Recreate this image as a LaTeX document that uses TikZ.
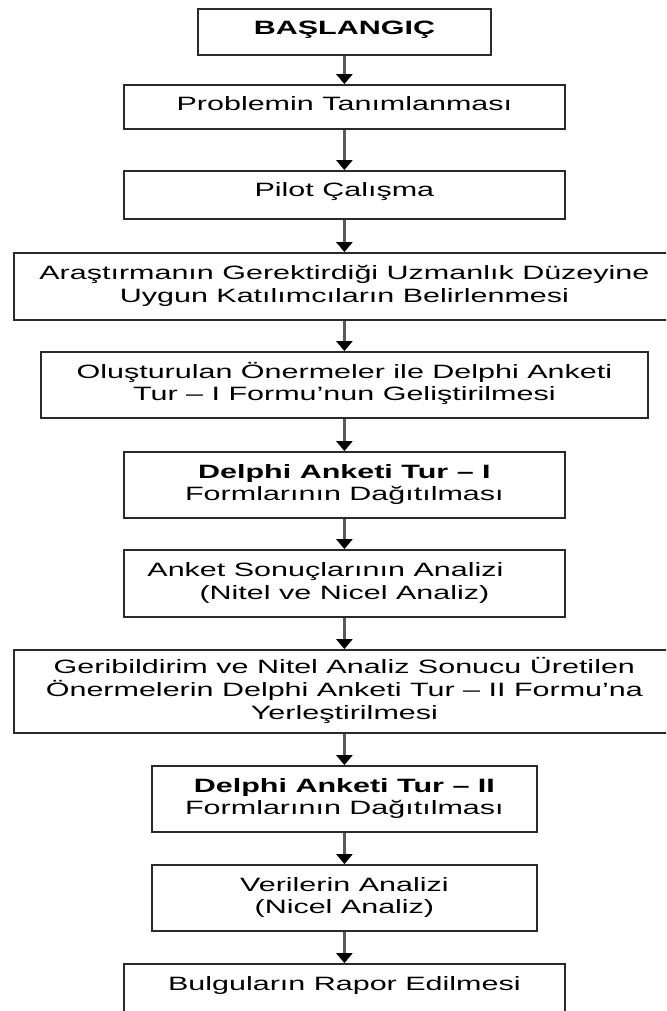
\documentclass[tikz,border=0pt]{standalone}
\usepackage{fontspec}
\setmainfont{Liberation Sans}[FakeStretch=1.58]
\usetikzlibrary{arrows.meta}
\definecolor{boxline}{HTML}{2A2A2A}
\definecolor{arrowline}{HTML}{5A5A5A}
\begin{document}
\begin{tikzpicture}[x=1pt,y=-1pt,
  box/.style={draw=boxline, line width=1.8pt, inner sep=0pt,
    font=\fontsize{19.3}{22.5}\selectfont},
  mbox/.style={box, align=center},
  flow/.style={draw=arrowline, line width=2.4pt,
    -{Triangle[length=10pt,width=16pt,color=black]}},
]
\useasboundingbox (0,0) rectangle (666,1011);
\fill[white] (0,0) rectangle (666,1011);
\clip (0,0) rectangle (666,1011);

\node[box, minimum width=293pt, text height=25.7pt, text depth=20pt]
  (start) at (344.4,32.15) {\textbf{BAŞLANGIÇ}};
\node[box, minimum width=441pt, text height=25.7pt, text depth=18.3pt]
  (prob) at (344.4,107) {Problemin Tanımlanması};
\node[box, minimum width=441pt, text height=25.7pt, text depth=22.3pt]
  (pilot) at (344.4,195) {Pilot Çalışma};
\node[mbox, minimum width=661pt, minimum height=67pt]
  (aras) at (344.4,286.5) {\strut Araştırmanın Gerektirdiği Uzmanlık Düzeyine\\\strut Uygun Katılımcıların Belirlenmesi};
\node[mbox, minimum width=606.5pt, minimum height=66pt]
  (olus) at (344.4,385) {\strut Oluşturulan Önermeler ile Delphi Anketi\\\strut Tur – I Formu’nun Geliştirilmesi};
\node[mbox, minimum width=441pt, minimum height=66pt]
  (d1) at (344.4,485) {\strut\textbf{Delphi Anketi Tur – I}\\\strut Formlarının Dağıtılması};
\node[mbox, minimum width=441pt, minimum height=67pt]
  (anket) at (344.4,583.5) {\strut Anket Sonuçlarının Analizi\hspace*{38pt}\\\strut(Nitel ve Nicel Analiz)};
\node[mbox, minimum width=661pt, minimum height=83pt]
  (geri) at (344.4,691.5) {\strut Geribildirim ve Nitel Analiz Sonucu Üretilen\\\strut Önermelerin Delphi Anketi Tur – II Formu’na\\\strut Yerleştirilmesi};
\node[mbox, minimum width=385.4pt, minimum height=66pt]
  (d2) at (344.4,799) {\strut\textbf{Delphi Anketi Tur – II}\\\strut Formlarının Dağıtılması};
\node[mbox, minimum width=385.4pt, minimum height=66pt]
  (veri) at (344.4,898) {\strut Verilerin Analizi\\\strut(Nicel Analiz)};
\node[box, minimum width=441pt, text height=26pt, text depth=30pt]
  (bulg) at (344.4,992) {Bulguların Rapor Edilmesi};

\draw[flow] (start) -- (prob);
\draw[flow] (prob) -- (pilot);
\draw[flow] (pilot) -- (aras);
\draw[flow] (aras) -- (olus);
\draw[flow] (olus) -- (d1);
\draw[flow] (d1) -- (anket);
\draw[flow] (anket) -- (geri);
\draw[flow] (geri) -- (d2);
\draw[flow] (d2) -- (veri);
\draw[flow] (veri) -- (bulg);
\end{tikzpicture}
\end{document}
